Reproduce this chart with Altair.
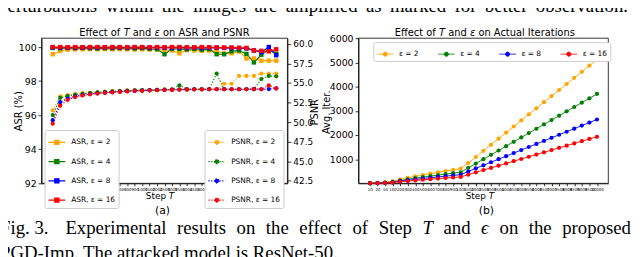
import altair as alt
import pandas as pd

# ---------------- data ----------------
T_values = [10, 20, 50, 100, 200, 300, 400, 500, 600, 700, 800, 900, 1000,
            1500, 2000, 2500, 3000, 3500, 4000, 4500, 5000, 5500, 6000, 6500,
            7000, 7500, 8000, 8500, 9000, 9500, 10000]
eps_values = [2, 4, 8, 16]
series_colors = ["#FFA500", "#008000", "#0000FF", "#FF0000"]

asr_eps2 = [99.58, 99.78, 99.85, 99.87, 99.87, 99.88, 99.87, 99.88, 99.87, 99.88, 99.87,
            99.86, 99.87, 99.86, 99.85, 99.84, 99.80, 99.63, 99.82, 99.80, 99.78, 99.80,
            99.75, 99.63, 99.63, 99.75, 99.33, 99.33, 99.20, 99.20, 99.20]
asr_eps4 = [99.95, 99.93, 99.95, 99.94, 99.95, 99.93, 99.92, 99.94, 99.93, 99.95, 99.93,
            99.92, 99.94, 99.90, 99.88, 99.58, 99.90, 99.88, 99.86, 99.90, 99.85, 99.88,
            99.58, 99.58, 99.75, 99.80, 99.60, 99.10, 99.55, 99.85, 99.60]
asr_eps8 = [99.97, 99.96, 99.97, 99.96, 99.97, 99.98, 99.96, 99.97, 99.98, 99.97, 99.96,
            99.97, 99.98, 99.96, 99.97, 99.95, 99.96, 99.97, 99.95, 99.96, 99.94, 99.95,
            99.96, 99.95, 99.93, 99.94, 99.92, 99.80, 99.70, 100.0, 99.52]
asr_eps16 = [100.0, 100.0, 99.99, 100.0, 99.99, 100.0, 100.0, 99.99, 100.0, 100.0, 99.99,
             100.0, 100.0, 99.99, 100.0, 99.99, 100.0, 100.0, 99.99, 99.98, 100.0, 99.99,
             99.98, 99.97, 99.98, 99.96, 99.95, 99.80, 99.78, 99.75, 99.87]

psnr_eps2 = [51.5, 53.3, 53.45, 53.6, 53.7, 53.78, 53.85, 53.9, 53.95, 54.0, 54.05,
             54.08, 54.1, 54.12, 54.15, 54.18, 54.2, 54.2, 54.2, 54.22, 54.2, 54.22,
             54.22, 54.9, 54.9, 55.9, 55.9, 55.9, 56.2, 56.2, 56.2]
psnr_eps4 = [50.9, 53.1, 53.35, 53.5, 53.62, 53.72, 53.8, 53.87, 53.92, 53.97, 54.02,
             54.05, 54.08, 54.1, 54.12, 54.15, 54.15, 54.7, 54.2, 54.2, 54.2, 54.2,
             56.2, 54.2, 54.2, 54.2, 54.2, 54.2, 55.5, 55.9, 55.85]
psnr_eps8 = [50.25, 52.55, 53.0, 53.3, 53.45, 53.58, 53.68, 53.76, 53.83, 53.9, 53.95,
             54.0, 54.03, 54.06, 54.1, 54.12, 54.15, 54.17, 54.18, 54.2, 54.2, 54.2,
             54.2, 54.22, 54.2, 54.2, 54.2, 54.22, 54.2, 54.22, 54.3]
psnr_eps16 = [49.8, 52.1, 52.85, 53.2, 53.4, 53.55, 53.65, 53.73, 53.8, 53.86, 53.92,
              53.97, 54.0, 54.04, 54.07, 54.1, 54.12, 54.15, 54.15, 54.17, 54.18, 54.2,
              54.2, 54.2, 54.2, 54.2, 54.2, 54.22, 54.2, 54.7, 54.3]

iter_eps2 = [8, 16, 40, 81, 165, 231, 289, 346, 401, 456, 511, 561, 612, 842, 1090,
             1343, 1592, 1846, 2097, 2349, 2600, 2852, 3101, 3355, 3606, 3858, 4108,
             4362, 4612, 4865, 5115]
iter_eps4 = [6, 12, 30, 58, 118, 170, 214, 258, 300, 341, 381, 420, 458, 640, 818,
             998, 1178, 1358, 1537, 1718, 1897, 2077, 2257, 2436, 2617, 2796, 2976,
             3156, 3336, 3515, 3695]
iter_eps8 = [4, 9, 22, 44, 90, 130, 165, 199, 232, 265, 297, 328, 358, 490, 620,
             746, 872, 998, 1124, 1251, 1377, 1503, 1629, 1755, 1882, 2008, 2134,
             2260, 2387, 2513, 2640]
iter_eps16 = [3, 7, 17, 33, 66, 95, 122, 148, 172, 196, 220, 243, 265, 360, 455,
              547, 639, 731, 823, 915, 1007, 1099, 1191, 1283, 1375, 1467, 1559,
              1651, 1743, 1835, 1925]

asr_ticks = [92, 94, 96, 98, 100]
psnr_ticks = [42.5, 45.0, 47.5, 50.0, 52.5, 55.0, 57.5, 60.0]
iter_ticks = [1000, 2000, 3000, 4000, 5000, 6000]

# texts, as (segment, italic?) pieces
title_a = [("Effect of ", False), ("T", True), (" and ", False), ("ε", True),
           (" on ASR and PSNR", False)]
title_b = [("Effect of ", False), ("T", True), (" and ", False), ("ε", True),
           (" on Actual Iterations", False)]
xlabel = [("Step ", False), ("T", True)]
top_words = ["Perturbations", "within", "the", "images", "are", "amplified", "as",
             "marked", "for", "better", "observation."]
caption1_words = ["Fig.\u00a03.", "Experimental", "results", "on", "the", "effect", "of",
                  "Step", "T", "and", "\u03f5", "on", "the", "proposed"]
caption1_italic = ["T", "\u03f5"]
caption2 = "PGD-Imp. The attacked model is ResNet-50."

# ---------------- layout (svg pixels) ----------------
W, H = 632, 249
AX0, AX1 = 34, 283
BX0, BX1 = 355, 608
YT, YB = 29, 176
XDOM = [-1.5, 31.5]
SERIF_SIZE = 19
NBSP = "\u00a0"

# Times-compatible advance widths (1/1000 em) used to justify the caption lines
TIMES = {" ": 250, NBSP: 250, ".": 250, "-": 333, "3": 500, "5": 500, "0": 500,
         "a": 444, "b": 500, "c": 444, "d": 500, "e": 444, "f": 333, "g": 500, "h": 500,
         "i": 278, "j": 278, "k": 500, "l": 278, "m": 778, "n": 500, "o": 500, "p": 500,
         "q": 500, "r": 333, "s": 389, "t": 278, "u": 500, "v": 500, "w": 722, "x": 500,
         "y": 500, "z": 444, "F": 556, "E": 611, "P": 556, "S": 556, "T": 556,
         "\u03f5": 420}
# DejaVu Sans advance widths (1/1000 em) for the figure titles
DEJAVU = {" ": 318, NBSP: 318, "E": 632, "f": 352, "e": 615, "c": 550, "t": 392,
          "o": 612, "T": 611, "a": 613, "n": 634, "d": 635, "ε": 541, "A": 684,
          "S": 635, "R": 695, "P": 603, "N": 748, "u": 634, "l": 278, "I": 295,
          "r": 411, "i": 278, "s": 521, "p": 635}


def tw(s, size, table):
    return sum(table.get(c, 550) for c in s) * size / 1000.0


def justify(words, left, right, size, weights):
    widths = [tw(w, size, TIMES) for w in words]
    free = (right - left) - sum(widths)
    unit = free / sum(weights)
    xs, x = [], left
    for i, w in enumerate(widths):
        xs.append(x)
        if i < len(weights):
            x += w + unit * weights[i]
    return xs


def centered_segments(parts, cx, y, size):
    total = sum(tw(s, size, DEJAVU) for s, _ in parts)
    x = cx - total / 2.0
    rows = []
    for s, it in parts:
        lead = len(s) - len(s.lstrip(" "))
        rows.append({"text": s.strip(" "), "x": x + tw(" " * lead, size, DEJAVU),
                     "y": y, "size": size, "style": "italic" if it else "normal"})
        x += tw(s, size, DEJAVU)
    return rows


def long_df(series, fmt):
    rows = []
    for eps, vals in zip(eps_values, series):
        lab = fmt.format(eps)
        for i, (t, v) in enumerate(zip(T_values, vals)):
            rows.append({"idx": i, "T": t, "series": lab, "value": v})
    return pd.DataFrame(rows)


asr_df = long_df([asr_eps2, asr_eps4, asr_eps8, asr_eps16], "ASR, ε = {}")
psnr_df = long_df([psnr_eps2, psnr_eps4, psnr_eps8, psnr_eps16], "PSNR, ε = {}")
iter_df = long_df([iter_eps2, iter_eps4, iter_eps8, iter_eps16], "ε = {}")

label_expr = "[" + ",".join("'%d'" % t for t in T_values) + "][datum.value]"

AXIS_COMMON = dict(grid=False, title=None, domainColor="black", tickColor="black",
                   labelColor="black", labelFont="DejaVu Sans", domainWidth=0.8,
                   tickWidth=0.8)


def x_axis():
    return alt.Axis(orient="bottom", offset=YB - H, values=list(range(len(T_values))),
                    labelExpr=label_expr, labelFontSize=4, tickSize=2.5, labelPadding=1.5,
                    labelOverlap=False, labelFlush=False, labelBound=False, **AXIS_COMMON)


SQ = "M-1,0H1M-0.25,-0.25H0.25V0.25H-0.25Z"
CI = "M-1,0H1M0.25,0A0.25,0.25,0,1,1,-0.25,0A0.25,0.25,0,1,1,0.25,0Z"


def make_legend(x, y, path, sw, dash=None, horizontal=False):
    kw = dict(orient="none", legendX=x, legendY=y, title=None, symbolType=path,
              symbolSize=289, symbolStrokeWidth=sw, symbolOpacity=1,
              labelFontSize=7.5, labelFont="DejaVu Sans", labelColor="black",
              labelOffset=5, padding=3, rowPadding=4.5, strokeColor="#cccccc",
              fillColor="white", cornerRadius=2)
    if dash:
        kw["symbolDash"] = dash
    if horizontal:
        kw["direction"] = "horizontal"
        kw["columnPadding"] = 17
    return alt.Legend(**kw)


def panel(df, fmt, xscale, xaxis, yscale, yaxis, legend, line_kw, shape, psize):
    labels = [fmt.format(e) for e in eps_values]
    base = alt.Chart(df).encode(
        x=alt.X("idx:Q", scale=xscale, axis=xaxis),
        y=alt.Y("value:Q", scale=yscale, axis=yaxis),
        color=alt.Color("series:N", scale=alt.Scale(domain=labels, range=series_colors),
                        legend=legend),
    )
    line = base.mark_line(**line_kw)
    pts = base.mark_point(filled=True, shape=shape, size=psize, opacity=1)
    return alt.layer(line, pts)


xa = alt.Scale(domain=XDOM, range=[AX0, AX1], nice=False, zero=False)
xb = alt.Scale(domain=XDOM, range=[BX0, BX1], nice=False, zero=False)

asr_panel = panel(
    asr_df, "ASR, ε = {}", xa, x_axis(),
    alt.Scale(domain=[92, 100.52], range=[YB, YT], nice=False, zero=False),
    alt.Axis(orient="left", offset=-AX0, values=asr_ticks, format="d", labelFontSize=9.5,
             tickSize=3.5, labelPadding=2, **AXIS_COMMON),
    make_legend(37, 122, SQ, 1.2),
    dict(strokeWidth=1.2), "square", 20)

psnr_panel = panel(
    psnr_df, "PSNR, ε = {}", xa, None,
    alt.Scale(domain=[42.18, 60.72], range=[YB, YT], nice=False, zero=False),
    alt.Axis(orient="right", offset=AX1 - W, values=psnr_ticks, format=".1f",
             labelFontSize=9, tickSize=3.5, labelPadding=2, **AXIS_COMMON),
    make_legend(199, 122, CI, 1.2, dash=[1.2, 1.6]),
    dict(strokeWidth=1.2, strokeDash=[1.2, 1.8]), "circle", 18)

iter_panel = panel(
    iter_df, "ε = {}", xb, x_axis(),
    alt.Scale(domain=[0, 6000], range=[YB, YT], nice=False, zero=False),
    alt.Axis(orient="left", offset=-BX0, values=iter_ticks, format="d", labelFontSize=9.5,
             tickSize=3.5, labelPadding=2, **AXIS_COMMON),
    make_legend(370, 33, CI, 0.8, horizontal=True),
    dict(strokeWidth=0.9), "circle", 18)

# frames (matplotlib spines)
frame_df = pd.DataFrame({"x0": [AX0, BX0], "x1": [AX1, BX1], "y0": [YT, YT], "y1": [YB, YB]})
frames = alt.Chart(frame_df).mark_rect(fillOpacity=0, stroke="black", strokeWidth=0.8).encode(
    x=alt.X("x0:Q", scale=None, axis=None), x2="x1",
    y=alt.Y("y0:Q", scale=None, axis=None), y2="y1")

# centred figure texts (sub-labels, rotated axis titles)
sans_df = pd.DataFrame({
    "text": ["(a)", "(b)", "ASR (%)", "PSNR", "Avg. Iter."],
    "x": [156.5, 484.5, 11, 311, 323.5],
    "y": [204.5, 204.5, 103, 104, 104],
    "size": [11, 11, 10, 10, 10],
    "angle": [0, 0, 270, 270, 270],
})
sans_text = alt.Chart(sans_df).mark_text(font="DejaVu Sans", align="center",
                                         baseline="middle", color="black").encode(
    x=alt.X("x:Q", scale=None, axis=None), y=alt.Y("y:Q", scale=None, axis=None),
    text="text:N", size=alt.Size("size:Q", scale=None, legend=None),
    angle=alt.Angle("angle:Q", scale=None, legend=None))

# titles / x labels with italic math pieces
seg_rows = (centered_segments(title_a, 158.5, 23.5, 10)
            + centered_segments(title_b, 483, 23.5, 10)
            + centered_segments(xlabel, 154, 189, 9)
            + centered_segments(xlabel, 478, 189, 9))
seg_df = pd.DataFrame(seg_rows)


def seg_layer(style):
    return alt.Chart(seg_df).transform_filter(alt.datum.style == style).mark_text(
        font="DejaVu Sans", fontStyle=style, align="left", baseline="middle",
        color="black").encode(
        x=alt.X("x:Q", scale=None, axis=None), y=alt.Y("y:Q", scale=None, axis=None),
        text="text:N", size=alt.Size("size:Q", scale=None, legend=None))


# paper texts (justified, Times-like)
top_x = justify(top_words, -11, 628, SERIF_SIZE, [1] * (len(top_words) - 1))
cap_weights = [1.6] + [1] * (len(caption1_words) - 2)
cap_x = justify(caption1_words, -8, 631, SERIF_SIZE, cap_weights)
serif_rows = []
for w, x in zip(top_words, top_x):
    serif_rows.append({"text": w, "x": x, "y": 2, "style": "normal"})
for w, x in zip(caption1_words, cap_x):
    serif_rows.append({"text": w, "x": x, "y": 227,
                       "style": "italic" if w in caption1_italic else "normal"})
serif_rows.append({"text": caption2, "x": -8, "y": 253, "style": "normal"})
serif_df = pd.DataFrame(serif_rows)


def serif_layer(style):
    return alt.Chart(serif_df).transform_filter(
        alt.datum.style == style
    ).mark_text(font="Liberation Serif", fontStyle=style, align="left",
                baseline="alphabetic", color="black", fontSize=SERIF_SIZE).encode(
        x=alt.X("x:Q", scale=None, axis=None), y=alt.Y("y:Q", scale=None, axis=None),
        text="text:N")


chart = alt.layer(frames, asr_panel, psnr_panel, iter_panel, sans_text,
                  seg_layer("normal"), seg_layer("italic"),
                  serif_layer("normal"), serif_layer("italic")).resolve_scale(
    x="independent", y="independent", color="independent"
).properties(
    width=W, height=H, padding=0, autosize=alt.AutoSizeParams(type="none")
).configure_view(strokeWidth=0)

chart.save("out.html", embed_options={"renderer": "svg", "actions": False})
